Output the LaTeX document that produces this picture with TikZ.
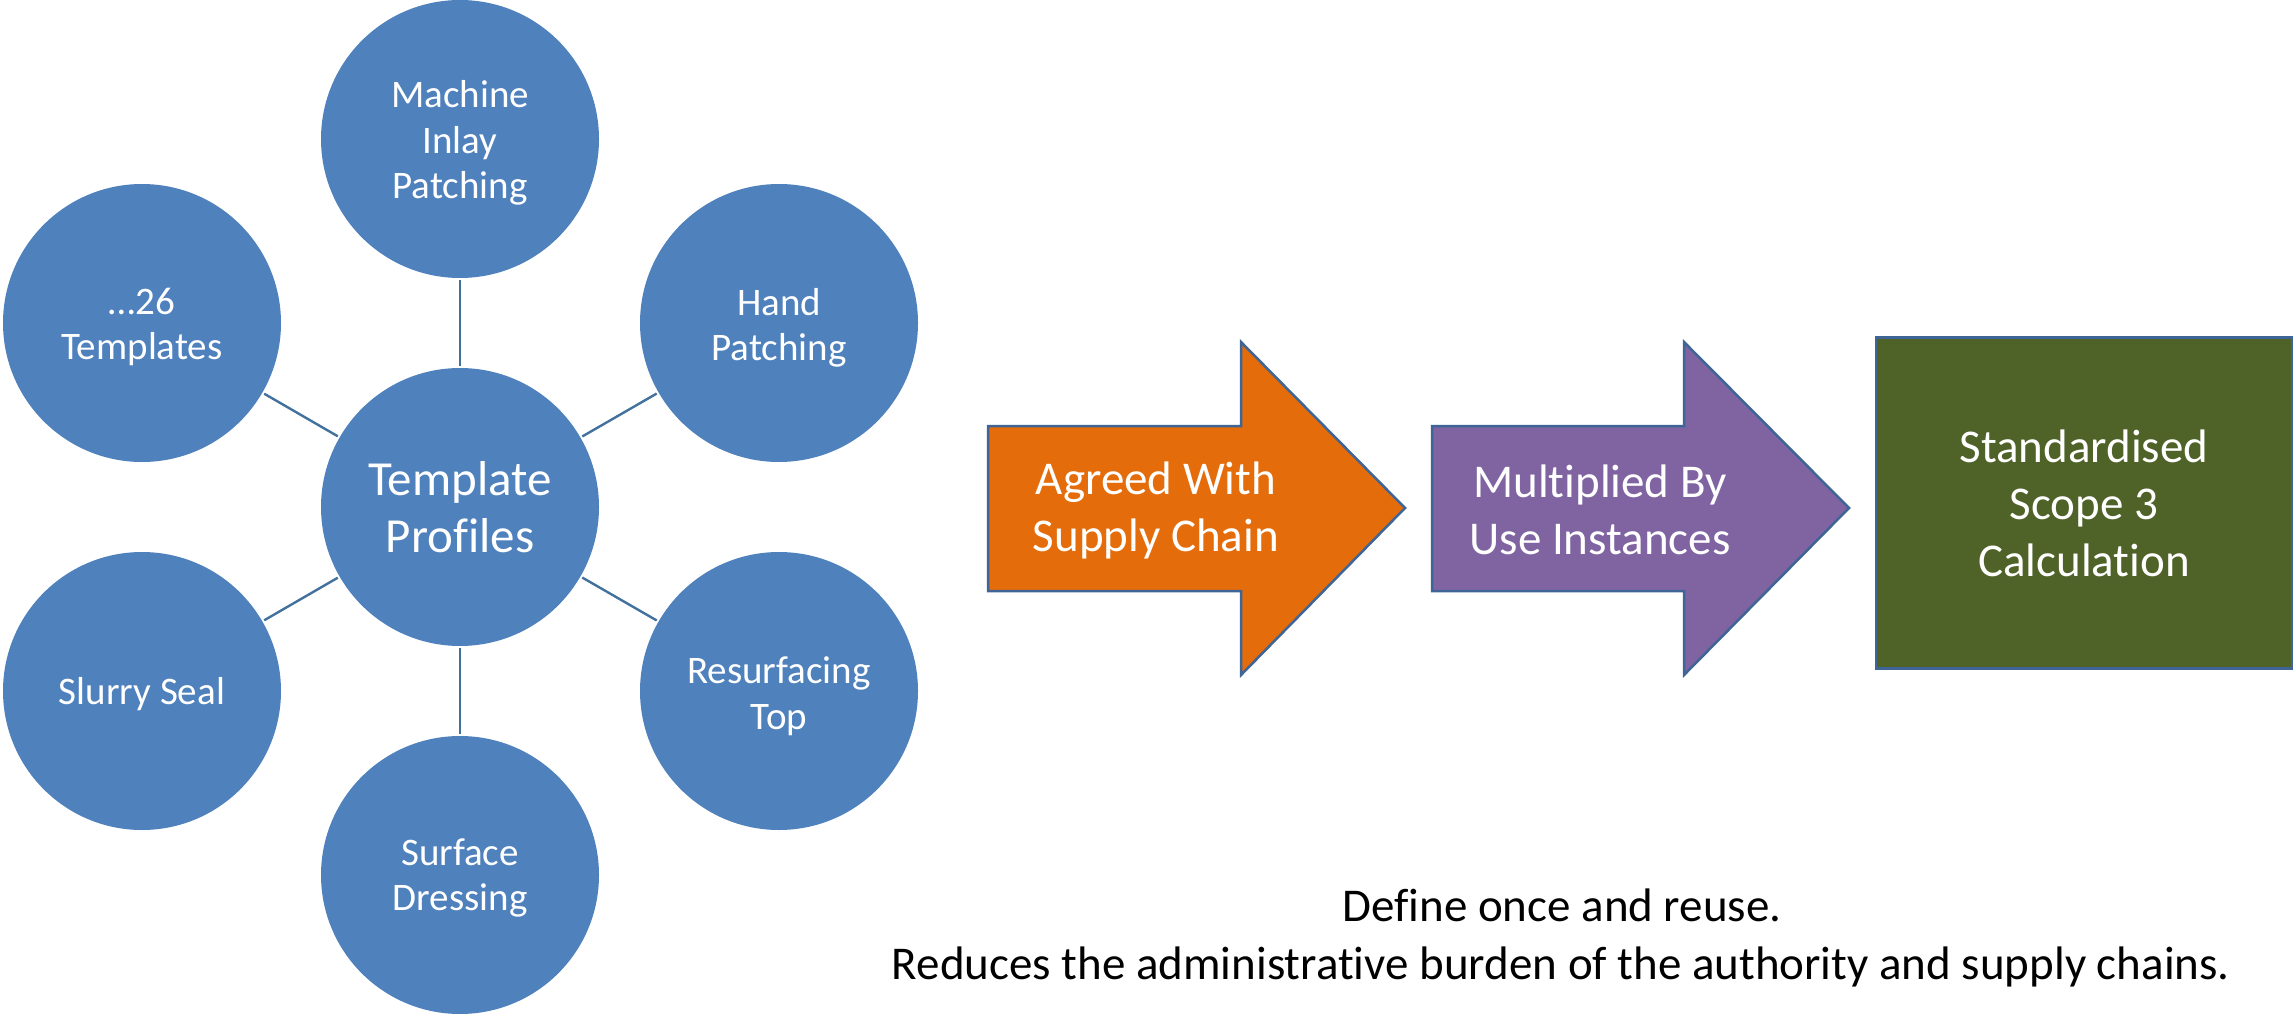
\documentclass[tikz,border=0pt]{standalone}
\usepackage{fontspec}
\setmainfont[Ligatures=CommonOff]{Carlito}
\definecolor{cblue}{HTML}{4F81BD}
\definecolor{clink}{HTML}{41719C}
\definecolor{cedge}{HTML}{3E6596}
\definecolor{corange}{HTML}{E46C0A}
\definecolor{cpurple}{HTML}{8064A2}
\definecolor{cgreen}{HTML}{4F6228}
\tikzset{
  bubble/.style={circle, fill=cblue, minimum size=278pt, inner sep=0pt},
  bubbletext/.style={text=white, align=center, inner sep=0pt, font=\fontsize{39}{45.5}\selectfont},
  hub/.style={bubble, text=white, align=center, font=\fontsize{49}{57}\selectfont},
  spoke/.style={draw=clink, line width=2.4pt, shorten <=2pt, shorten >=2pt},
  arrowshape/.style={draw=cedge, line width=2.5pt, line join=miter},
  arrowtext/.style={text=white, align=center, font=\fontsize{47}{57}\selectfont},
  note/.style={text=black, anchor=base, font=\fontsize{47}{58}\selectfont}
}
\begin{document}
\begin{tikzpicture}[x=1pt,y=-1pt]
\useasboundingbox (0,0) rectangle (2295,1014);
% hub and bubbles
\node[hub] (c) at (460,507) {Template\\Profiles};
\node[bubble] (t) at (460,139) {};
\node[bubble] (ur) at (779,323) {};
\node[bubble] (lr) at (779,691) {};
\node[bubble] (b) at (460,875) {};
\node[bubble] (ll) at (142,691) {};
\node[bubble] (ul) at (142,323) {};
\node[bubbletext] (tT) at ([yshift=-4pt]t.center) {Machine\\Inlay\\Patching};
\node[bubbletext] (urT) at ([yshift=-5pt]ur.center) {Hand\\Patching};
\node[bubbletext] (lrT) at ([yshift=-5pt]lr.center) {Resurfacing\\Top};
\node[bubbletext] (bT) at ([yshift=-3pt]b.center) {Surface\\Dressing};
\node[bubbletext] (llT) at ([yshift=-3pt]ll.center) {Slurry Seal};
\node[bubbletext] (ulT) at ([yshift=-4pt]ul.center) {\symbol{"2026}26\\Templates};
\draw[spoke] (c) -- (t);
\draw[spoke] (c) -- (ur);
\draw[spoke] (c) -- (lr);
\draw[spoke] (c) -- (b);
\draw[spoke] (c) -- (ll);
\draw[spoke] (c) -- (ul);
% arrows
\draw[arrowshape, fill=corange] (988,426) -- (1241,426) -- (1241,342) -- (1405,508) -- (1241,675) -- (1241,591) -- (988,591) -- cycle;
\node[arrowtext] (a1) at (1156,510) {Agreed With\\Supply Chain};
\draw[arrowshape, fill=cpurple] (1432,426) -- (1684,426) -- (1684,342) -- (1849,508) -- (1684,675) -- (1684,591) -- (1432,591) -- cycle;
\node[arrowtext] (a2) at (1600,510) {Multiplied By\\Use Instances};
\node[arrowshape, fill=cgreen, rectangle, minimum width=416pt, minimum height=331pt, inner sep=0pt,
  text=white, align=center, font=\fontsize{47}{57}\selectfont] (g) at (2084,503)
  {Standardised\\Scope 3\\Calculation};
% notes
\node[note] (n1) at (1562,921) {Define once and reuse.};
\node[note] (n2) at (1561,979) {Reduces the administrative burden of the authority and supply chains.};
\end{tikzpicture}
\end{document}
